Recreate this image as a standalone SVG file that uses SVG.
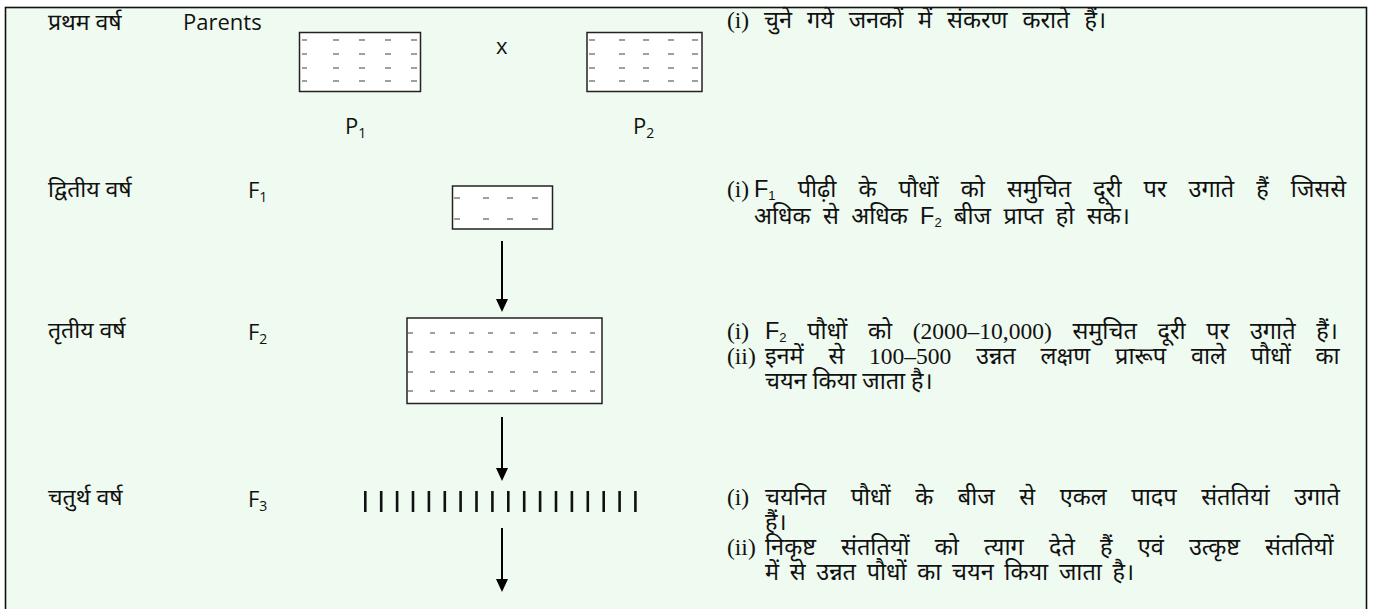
<svg xmlns="http://www.w3.org/2000/svg" width="1373" height="609" viewBox="0 0 1373 609">
<style>
.bg{fill:#effaf0;stroke:#111;stroke-width:1.6}
.box{fill:#fff;stroke:#222;stroke-width:1.5}
.dash{stroke:#808080;stroke-width:1.4}
.lab{font-family:"Noto Sans Devanagari","Noto Sans","Open Sans",sans-serif;font-size:23px;fill:#111}
.lat{font-family:"Open Sans","Noto Sans",sans-serif;font-size:22px;fill:#111}
.sub{font-size:14px}
.rt{font-family:"Liberation Serif","Noto Sans Devanagari",serif;font-size:23.5px;fill:#111}
.rs{font-family:"Liberation Sans",sans-serif}
.rsub{font-size:13px}
.conn{stroke:#000;stroke-width:2;fill:none}
.bar{stroke:#111;stroke-width:2.6}
</style>
<rect x="0" y="0" width="1373" height="609" fill="#fff"/>
<rect class="bg" x="5.5" y="7.5" width="1361" height="620"/>

<g id="row-labels">
<text class="lab" x="48" y="30">प्रथम वर्ष</text>
<text class="lat" x="183" y="30">Parents</text>
<text class="lab" x="48" y="197">द्वितीय वर्ष</text>
<text class="lat" x="248" y="198">F<tspan class="sub" dy="4">1</tspan></text>
<text class="lab" x="48" y="338">तृतीय वर्ष</text>
<text class="lat" x="248" y="340">F<tspan class="sub" dy="4">2</tspan></text>
<text class="lab" x="48" y="505">चतुर्थ वर्ष</text>
<text class="lat" x="248" y="507">F<tspan class="sub" dy="4">3</tspan></text>
</g>

<g id="p1">
<rect class="box" x="299.5" y="32.5" width="121" height="59"/>
<g class="dash">
<path d="M302,40h5M333,40h6M359,40h6M385,40h6M411,40h6"/>
<path d="M302,54h5M333,54h6M359,54h6M385,54h6M411,54h6"/>
<path d="M302,68h5M333,68h6M359,68h6M385,68h6M411,68h6"/>
<path d="M302,81h5M333,81h6M359,81h6M385,81h6M411,81h6"/>
</g>
<text class="lat" x="345" y="134">P<tspan class="sub" dy="4">1</tspan></text>
</g>

<g id="cross">
<text class="lat" x="496" y="54">x</text>
</g>

<g id="p2">
<rect class="box" x="587" y="32.5" width="115" height="59"/>
<g class="dash">
<path d="M589,40h6M619,40h6M643,40h6M668,40h6M692,40h6"/>
<path d="M589,54h6M619,54h6M643,54h6M668,54h6M692,54h6"/>
<path d="M589,68h6M619,68h6M643,68h6M668,68h6M692,68h6"/>
<path d="M589,81h6M619,81h6M643,81h6M668,81h6M692,81h6"/>
</g>
<text class="lat" x="633" y="134">P<tspan class="sub" dy="4">2</tspan></text>
</g>

<g id="f1">
<rect class="box" x="452.5" y="186" width="100" height="43"/>
<g class="dash">
<path d="M454,198h6M483,198h6M507,198h6M532,198h6"/>
<path d="M454,219h6M483,219h6M507,219h6M532,219h6"/>
</g>
</g>

<g id="f2">
<rect class="box" x="407" y="318" width="195" height="85.5"/>
<g class="dash">
<path d="M408,333h5M430,333h5M450,333h5M469,333h5M488,333h5M510,333h5M533,333h5M552,333h5M571,333h5M590,333h5"/>
<path d="M408,352h5M430,352h5M450,352h5M469,352h5M488,352h5M510,352h5M533,352h5M552,352h5M571,352h5M590,352h5"/>
<path d="M408,372h5M430,372h5M450,372h5M469,372h5M488,372h5M510,372h5M533,372h5M552,372h5M571,372h5M590,372h5"/>
<path d="M408,391h5M430,391h5M450,391h5M469,391h5M488,391h5M510,391h5M533,391h5M552,391h5M571,391h5M590,391h5"/>
</g>
</g>

<g id="f3">
<g class="bar">
<path d="M365.3,491v21M381.2,491v21M397.1,491v21M413,491v21M428.9,491v21M444.8,491v21M460.6,491v21M476.5,491v21M492.4,491v21M508.3,491v21M524.2,491v21M540.1,491v21M556,491v21M571.9,491v21M587.8,491v21M603.7,491v21M619.6,491v21M635.4,491v21"/>
</g>
</g>

<g id="connectors">
<path class="conn" d="M502,241V300"/>
<path d="M496,299h12l-6,13z" fill="#000"/>
<path class="conn" d="M502,417V469"/>
<path d="M496,468h12l-6,13z" fill="#000"/>
<path class="conn" d="M502,528V580"/>
<path d="M496,579h12l-6,13z" fill="#000"/>
</g>

<g id="notes">
<text class="rt" x="727" y="28" word-spacing="9">(i) चुने गये जनकों में संकरण कराते हैं।</text>
<text class="rt" x="727" y="197">(i)</text>
<text class="rt" x="754" y="197" word-spacing="16.2"><tspan class="rs">F<tspan class="rsub" dy="3">1</tspan></tspan><tspan dy="-3"> पीढ़ी के पौधों को समुचित दूरी पर उगाते हैं जिससे</tspan></text>
<text class="rt" x="754" y="224" word-spacing="6.5">अधिक से अधिक <tspan class="rs">F<tspan class="rsub" dy="3">2</tspan></tspan><tspan dy="-3"> बीज प्राप्त हो सके।</tspan></text>
<text class="rt" x="727" y="339">(i)</text>
<text class="rt" x="765" y="339" word-spacing="14.8"><tspan class="rs">F<tspan class="rsub" dy="3">2</tspan></tspan><tspan dy="-3"> पौधों को (2000–10,000) समुचित दूरी पर उगाते हैं।</tspan></text>
<text class="rt" x="727" y="364">(ii)</text>
<text class="rt" x="765" y="364" word-spacing="18.9">इनमें से 100–500 उन्नत लक्षण प्रारूप वाले पौधों का</text>
<text class="rt" x="765" y="389">चयन किया जाता है।</text>
<text class="rt" x="727" y="505">(i)</text>
<text class="rt" x="765" y="505" word-spacing="18.7">चयनित पौधों के बीज से एकल पादप संततियां उगाते</text>
<text class="rt" x="765" y="530">हैं।</text>
<text class="rt" x="727" y="555">(ii)</text>
<text class="rt" x="765" y="555" word-spacing="19.3">निकृष्ट संततियों को त्याग देते हैं एवं उत्कृष्ट संततियों</text>
<text class="rt" x="765" y="580" word-spacing="4.8">में से उन्नत पौधों का चयन किया जाता है।</text>
</g>
</svg>
